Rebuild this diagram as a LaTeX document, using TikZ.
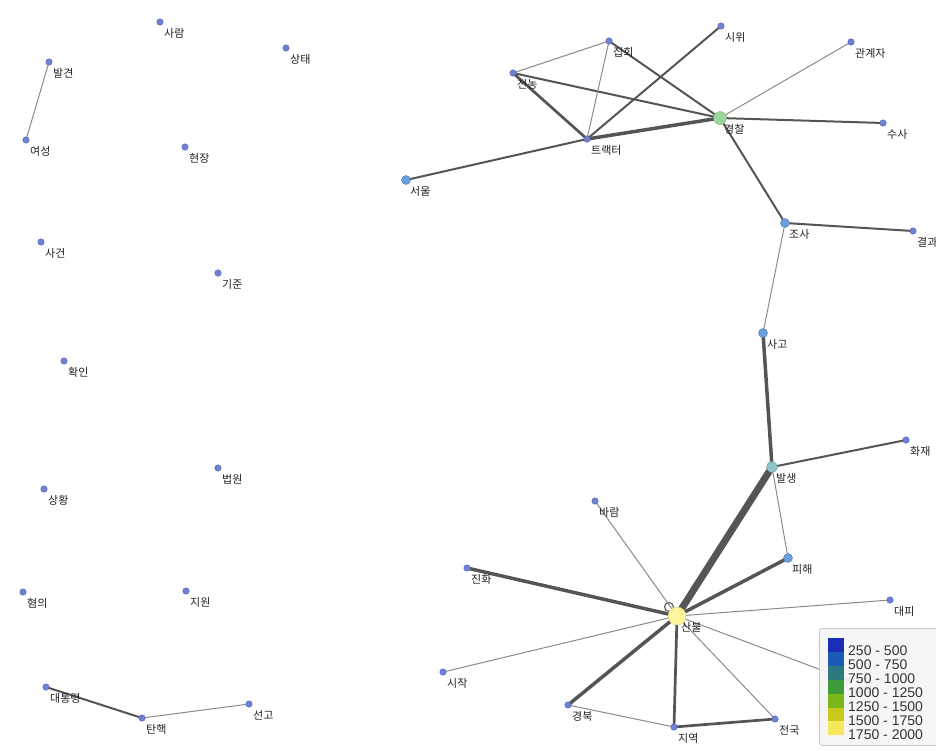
\documentclass[tikz,border=0pt]{standalone}
\usepackage{fontspec}
\setmainfont{Liberation Sans}
\newfontfamily\kr{Noto Sans CJK KR}
\definecolor{nodeblue}{HTML}{7080D8}
\definecolor{lightblue}{HTML}{6A9FE0}
\definecolor{greenn}{HTML}{9AD69A}
\definecolor{tealn}{HTML}{8CC6C6}
\definecolor{yellown}{HTML}{FFF59D}
\definecolor{edark}{HTML}{555555}
\definecolor{elight}{HTML}{8A8A8A}
\definecolor{labelc}{HTML}{222222}
\definecolor{lg1}{HTML}{1B2DB5}
\definecolor{lg2}{HTML}{1B5BB5}
\definecolor{lg3}{HTML}{2A7A80}
\definecolor{lg4}{HTML}{3C9C3C}
\definecolor{lg5}{HTML}{7CB81C}
\definecolor{lg6}{HTML}{CACA1C}
\definecolor{lg7}{HTML}{F7E85E}
\pgfdeclarelayer{edges}
\pgfsetlayers{edges,main}
\tikzset{
  sm/.style={circle, fill=nodeblue, draw=nodeblue!75!black, line width=0.4pt, inner sep=0pt, minimum size=6.5pt},
  md/.style={circle, fill=lightblue, draw=lightblue!75!black, line width=0.4pt, inner sep=0pt, minimum size=9pt},
  gr/.style={circle, fill=greenn, draw=greenn!80!black, line width=0.4pt, inner sep=0pt, minimum size=13pt},
  tl/.style={circle, fill=tealn, draw=tealn!80!black, line width=0.4pt, inner sep=0pt, minimum size=11pt},
  yl/.style={circle, fill=yellown, draw=yellown!85!black, line width=0.4pt, inner sep=0pt, minimum size=18pt},
  lbl/.style={anchor=base west, inner sep=0pt, font=\kr\fontsize{11}{13}\selectfont, text=labelc},
  ea/.style={draw=elight, line width=1pt},
  eb/.style={draw=edark, line width=1.3pt},
  ec/.style={draw=edark, line width=2pt},
  ed/.style={draw=edark, line width=2.7pt},
  ee/.style={draw=edark, line width=3.5pt},
  ef/.style={draw=edark, line width=7pt},
  lgtext/.style={anchor=base west, inner sep=0pt, font=\fontsize{14}{16}\selectfont, text=black!80},
}
\newcommand\vn[5][sm]{\node[#1] (#2) at (#3,#4) {}; \node[lbl] at (#3+4,#4+15) {#5};}
\begin{document}
\begin{tikzpicture}[x=1pt,y=-1pt]
\useasboundingbox (0,0) rectangle (936,750);
% left nodes
\vn{saram}{160}{22}{사람}
\vn{sangtae}{286}{48}{상태}
\vn{balgyeon}{49}{62}{발견}
\vn{yeoseong}{26}{140}{여성}
\vn{hyeonjang}{185}{147}{현장}
\vn{sageon}{41}{242}{사건}
\vn{gijun}{218}{273}{기준}
\vn{hwagin}{64}{361}{확인}
\vn{beobwon}{218}{468}{법원}
\vn{sanghwang}{44}{489}{상황}
\vn{hyeomui}{23}{592}{혐의}
\vn{jiwon}{186}{591}{지원}
\vn{daetong}{46}{687}{대통령}
\vn{tanhaek}{142}{718}{탄핵}
\vn{seongo}{249}{704}{선고}
% right nodes
\vn{jiphoe}{609}{41}{집회}
\vn{siwi}{721}{26}{시위}
\vn{gwangye}{851}{42}{관계자}
\vn{jeonnong}{513}{73}{전농}
\vn[gr]{gyeongchal}{720}{118}{경찰}
\vn{susa}{883}{123}{수사}
\vn{tractor}{587}{139}{트랙터}
\vn[md]{seoul}{406}{180}{서울}
\vn[md]{josa}{785}{223}{조사}
\vn{gyeolgwa}{913}{231}{결과}
\vn[md]{sago}{763}{333}{사고}
\vn{hwajae}{906}{440}{화재}
\vn[tl]{balsaeng}{772}{467}{발생}
\vn{baram}{595}{501}{바람}
\vn[md]{pihae}{788}{558}{피해}
\vn{jinhwa}{467}{568}{진화}
\vn[yl]{sanbul}{677}{616}{산불}
\vn{daepi}{890}{600}{대피}
\vn{wiheom}{848}{680}{위험}
\vn{sijak}{443}{672}{시작}
\vn{gyeongbuk}{568}{705}{경북}
\vn{jiyeok}{674}{727}{지역}
\vn{jeonguk}{775}{719}{전국}
% self loop
\begin{pgfonlayer}{edges}
\draw[draw=edark, line width=1.1pt] ([shift={(-8,-9)}]sanbul.center) circle (4.5);
\draw[ea] (balgyeon.center) -- (yeoseong.center);
\draw[ec] (daetong.center) -- (tanhaek.center);
\draw[ea] (tanhaek.center) -- (seongo.center);
\draw[ea] (jeonnong.center) -- (jiphoe.center);
\draw[ed] (jeonnong.center) -- (tractor.center);
\draw[ec] (jeonnong.center) -- (gyeongchal.center);
\draw[ea] (jiphoe.center) -- (tractor.center);
\draw[ec] (jiphoe.center) -- (gyeongchal.center);
\draw[ec] (siwi.center) -- (tractor.center);
\draw[ee] (tractor.center) -- (gyeongchal.center);
\draw[ec] (seoul.center) -- (tractor.center);
\draw[ea] (gyeongchal.center) -- (gwangye.center);
\draw[ec] (gyeongchal.center) -- (susa.center);
\draw[ec] (gyeongchal.center) -- (josa.center);
\draw[ec] (josa.center) -- (gyeolgwa.center);
\draw[ea] (josa.center) -- (sago.center);
\draw[ee] (sago.center) -- (balsaeng.center);
\draw[ec] (balsaeng.center) -- (hwajae.center);
\draw[ef] (balsaeng.center) -- (sanbul.center);
\draw[ea] (balsaeng.center) -- (pihae.center);
\draw[ee] (pihae.center) -- (sanbul.center);
\draw[ea] (baram.center) -- (sanbul.center);
\draw[ee] (jinhwa.center) -- (sanbul.center);
\draw[ea] (sanbul.center) -- (daepi.center);
\draw[ea] (sanbul.center) -- (wiheom.center);
\draw[ea] (sanbul.center) -- (sijak.center);
\draw[ee] (sanbul.center) -- (gyeongbuk.center);
\draw[ed] (sanbul.center) -- (jiyeok.center);
\draw[ea] (sanbul.center) -- (jeonguk.center);
\draw[ea] (gyeongbuk.center) -- (jiyeok.center);
\draw[ed] (jiyeok.center) -- (jeonguk.center);
\end{pgfonlayer}
% legend
\node[draw=black!22, fill=black!4, fill opacity=0.9, rounded corners=3pt, line width=0.8pt, minimum width=120pt, minimum height=117pt, anchor=north west, inner sep=0pt] (legend) at (819,628) {};
\foreach \c [count=\i from 0] in {lg1,lg2,lg3,lg4,lg5,lg6,lg7}
  \fill[\c] (828,638+13.9*\i) rectangle (844,638+13.9*\i+13.9);
\foreach \t [count=\i from 0] in {250 - 500,500 - 750,750 - 1000,1000 - 1250,1250 - 1500,1500 - 1750,1750 - 2000}
  \node[lgtext] at (848,655+14.15*\i) {\t};
\end{tikzpicture}
\end{document}
